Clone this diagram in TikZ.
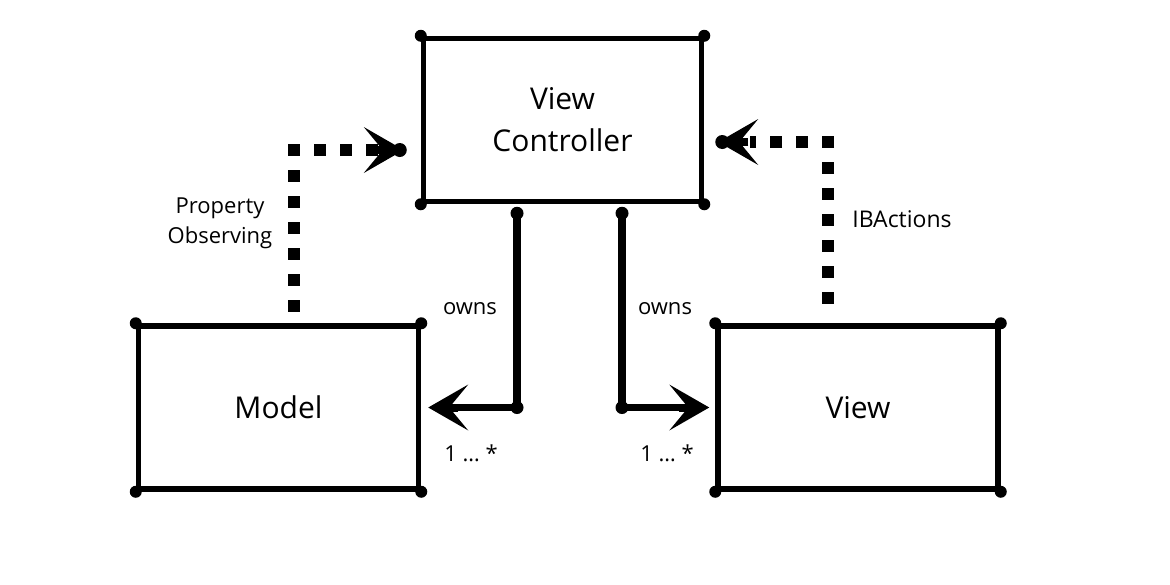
\documentclass[tikz,border=0pt]{standalone}
\usepackage{fontspec}
\setmainfont{Open Sans}
\usetikzlibrary{arrows.meta,calc}
\begin{document}
\begin{tikzpicture}[x=1pt,y=-1pt,
  box/.style={draw,line width=5.5pt,line join=round,inner sep=0pt,minimum width=280pt,minimum height=163pt,align=center,font=\fontsize{30}{42}\selectfont},
  lbl/.style={inner sep=0pt,align=center,font=\fontsize{22}{30}\selectfont},
  dotsline/.style={line width=12pt,dash pattern=on 12pt off 14pt},
  ownsline/.style={line width=7.5pt,line cap=round,line join=round},
  bighead/.style={line width=8pt,-{Stealth[length=40pt,width=46pt,inset=19pt,line width=0pt]}},
  blob/.style={fill=black}]
\fill[white] (0,0) rectangle (1170,584);
\useasboundingbox (0,0) rectangle (1170,584);

% boxes
\node[box,minimum width=278pt] (vc) at (562.5,120) {View\\Controller};
\node[box] (model) at (278.5,407.5) {Model};
\node[box] (view) at (858,407.5) {View};
\foreach \n in {vc,model,view}
  \foreach \a in {north west,north east,south west,south east}
    \fill (\n.\a) circle (6);

% owns connectors
\coordinate (a1) at ([shift={(-45.5,9)}]vc.south);
\coordinate (a2) at ([xshift=7]model.east);
\coordinate (b1) at ([shift={(59.5,9)}]vc.south);
\coordinate (b2) at ([xshift=-6]view.west);
\draw[ownsline] (a1) |- ([xshift=22]a2);
\draw[bighead] ([xshift=30]a2) -- (a2);
\fill (a1) circle (6.5);
\fill (a1 |- a2) circle (6.5);
\draw[ownsline] (b1) |- ([xshift=-22]b2);
\draw[bighead] ([xshift=-30]b2) -- (b2);
\fill (b1) circle (6.5);
\fill (b1 |- b2) circle (6.5);

% property observing (dotted)
\coordinate (tipL) at ([shift={(-17,30)}]vc.west);
\coordinate (startL) at ([shift={(15.5,-11.5)}]model.north);
\coordinate (cL) at (startL |- tipL);
\draw[dotsline] ([yshift=6]cL) -- (startL);
\draw[dotsline] ([xshift=-6]cL) -- ([xshift=-22]tipL);
\draw[bighead] ([xshift=-30]tipL) -- (tipL);
\fill ([xshift=-4]tipL) circle (7);

% IBActions (dotted)
\coordinate (tipR) at ([shift={(14,22)}]vc.east);
\coordinate (startR) at ([shift={(-30,-19)}]view.north);
\coordinate (cR) at (startR |- tipR);
\draw[dotsline] ([yshift=6]cR) -- (startR);
\draw[dotsline] ([xshift=6]cR) -- ([xshift=32]tipR);
\draw[bighead] ([xshift=30]tipR) -- (tipR);
\fill ([xshift=4]tipR) circle (7);

% labels
\node[lbl] (po) at (220,223) {Property\\Observing};
\node[lbl,font=\fontsize{23}{30}\selectfont] (iba) at (902,219) {IBActions};
\node[lbl] (ow1) at (470,309) {owns};
\node[lbl] (ow2) at (665,309) {owns};
\node[lbl] (m1) at (471,453) {1 … *};
\node[lbl] (m2) at (667,453) {1 … *};
\end{tikzpicture}
\end{document}
